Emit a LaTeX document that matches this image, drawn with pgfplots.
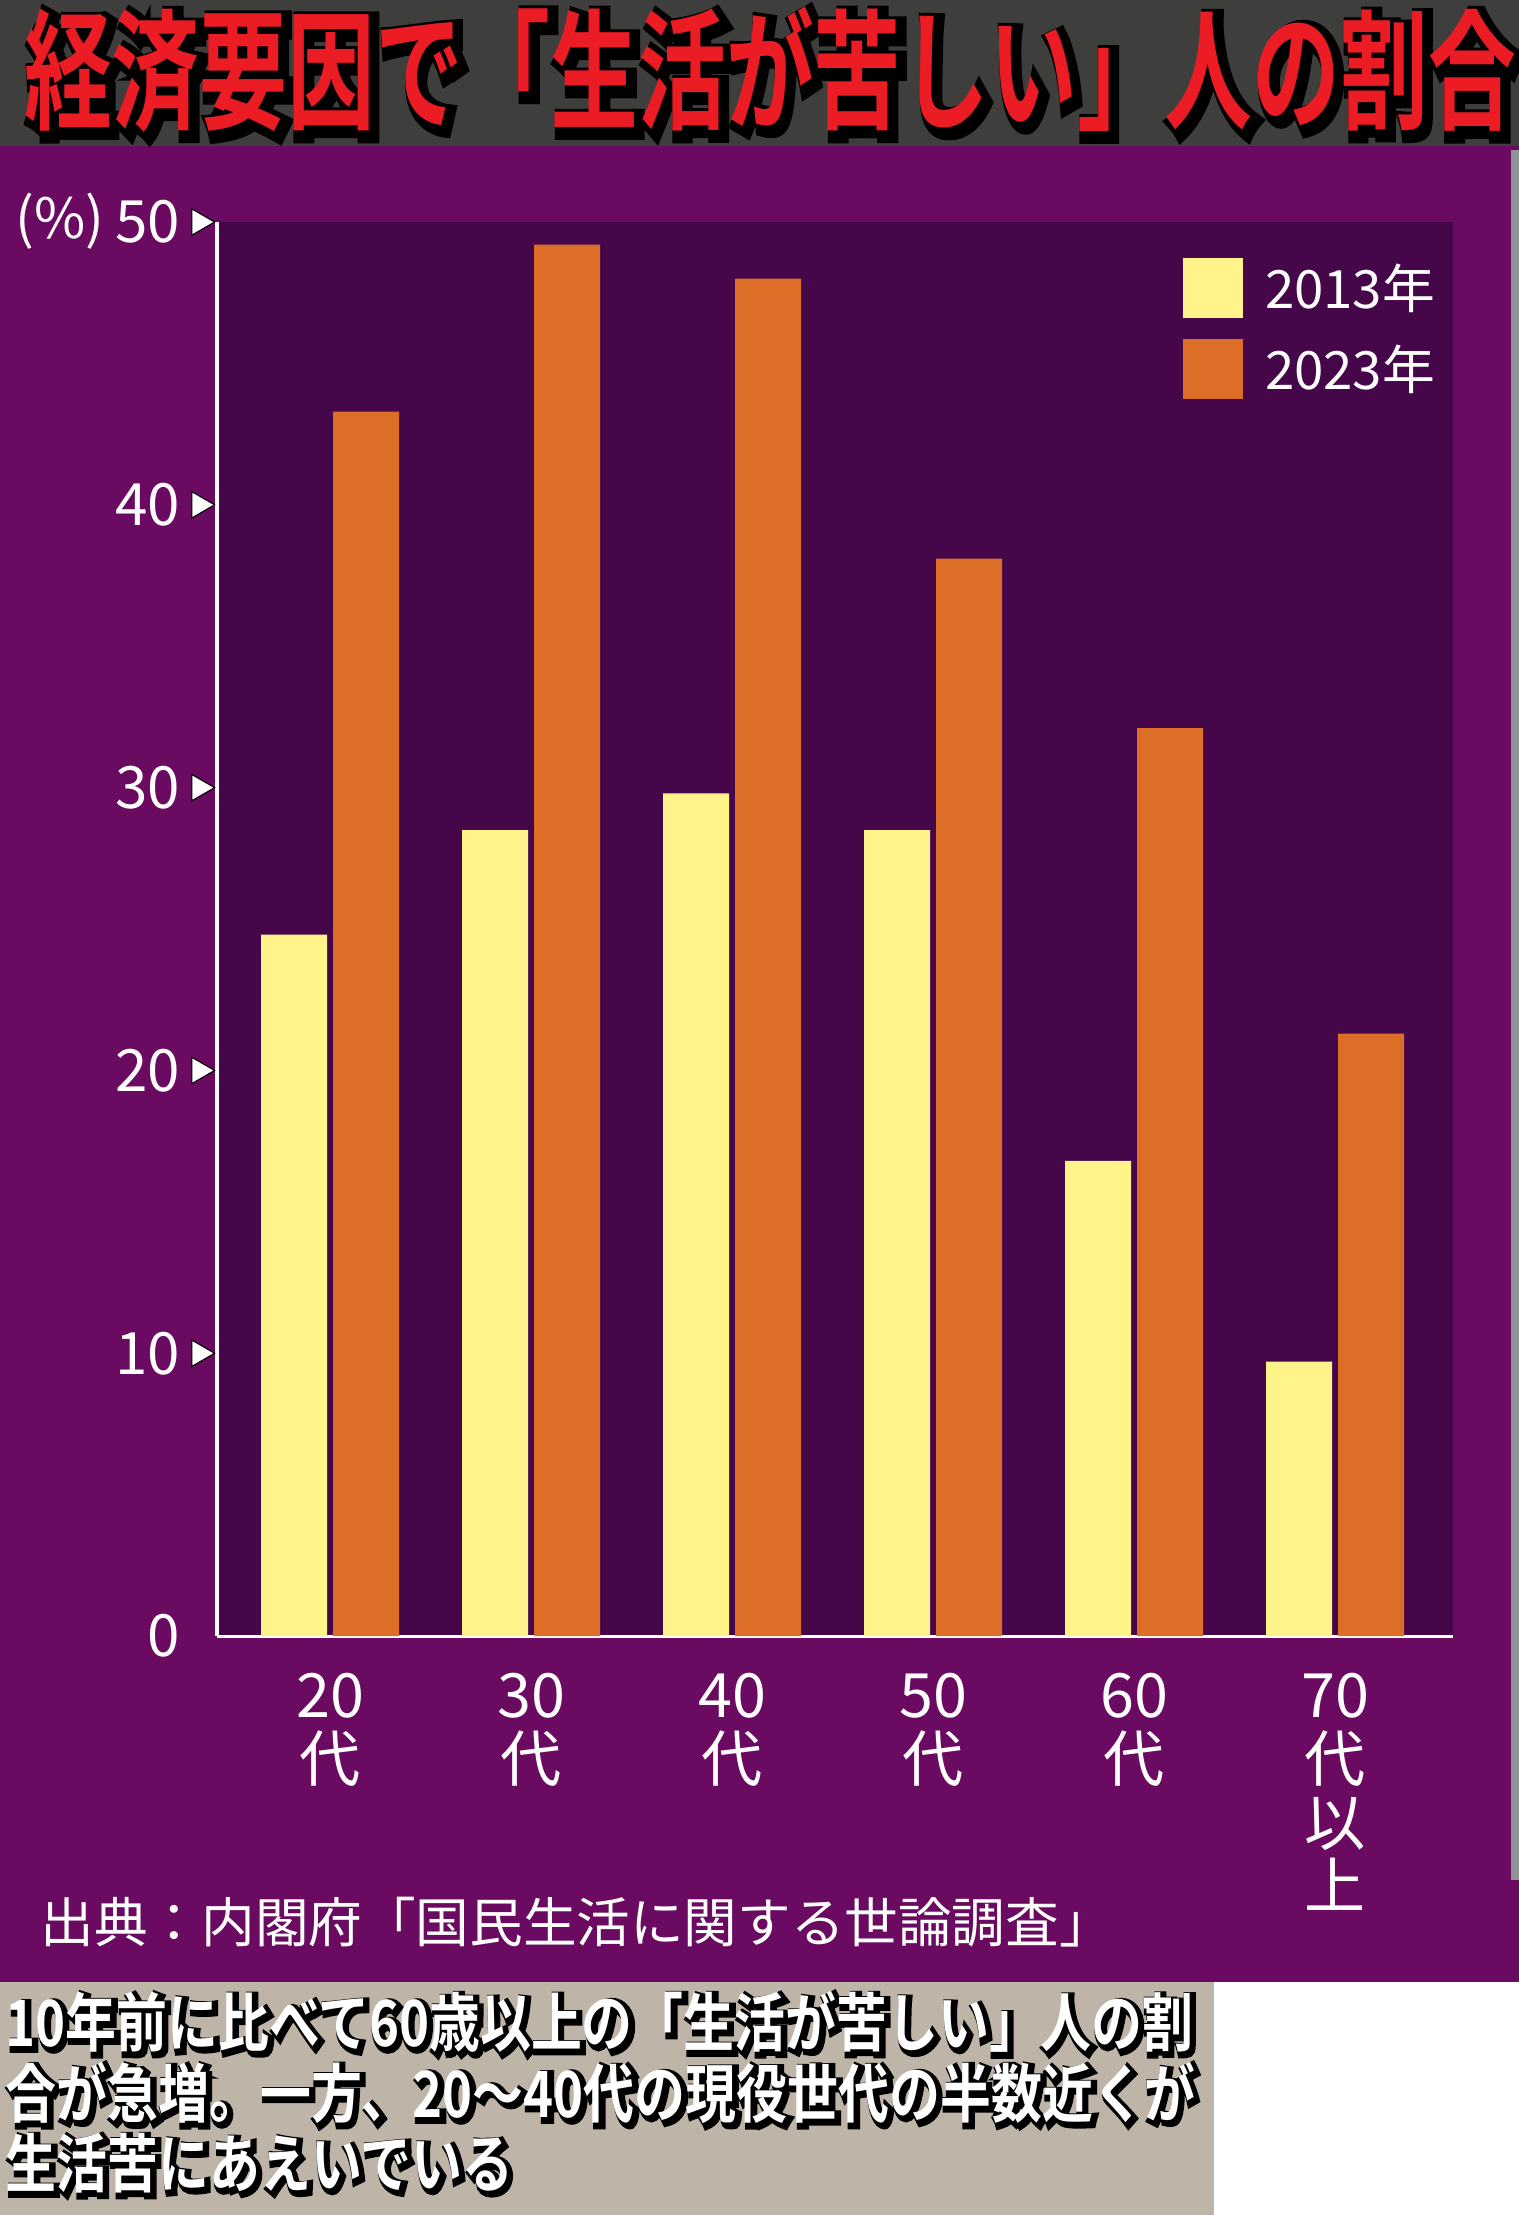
\documentclass[border=0pt]{standalone}
\usepackage{pgfplots}
\pgfplotsset{compat=1.18}
\usepackage{fontspec}
\setmainfont{Noto Sans CJK JP}
\newfontfamily\jpbold{Noto Sans CJK JP Bold}
\newfontfamily\jpboldout{Noto Sans CJK JP Bold}[FakeBold=12]
\definecolor{outerpurple}{HTML}{6A0A60}
\definecolor{innerpurple}{HTML}{46064A}
\definecolor{baryellow}{HTML}{FFF48A}
\definecolor{barorange}{HTML}{DC6E28}
\definecolor{titlered}{HTML}{EC1C24}
\definecolor{band}{HTML}{3E3E3C}
\definecolor{stone}{HTML}{BEB4A8}
\definecolor{sidegray}{HTML}{8E939A}

\pgfplotstableread{
x y13 y23
0 24.8 43.3
1 28.5 49.2
2 29.8 48.0
3 28.5 38.1
4 16.8 32.1
5 9.7 21.3
}\datatable

\begin{document}
\begin{tikzpicture}[x=0.36bp,y=0.36bp]
\useasboundingbox (0,0) rectangle (1519,-2215);
\clip (0,0) rectangle (1519,-2215);
\fill[white] (0,0) rectangle (1519,-2215);
\fill[band] (0,0) rectangle (1519,-146);
\fill[outerpurple] (0,-146) rectangle (1519,-1982);
\fill[sidegray] (1511,-150) rectangle (1519,-1880);
\fill[stone] (0,-1982) rectangle (1214,-2215);

% title
\node[anchor=base, text=black, inner sep=0pt] at (775,-124) {\scalebox{0.81}[1.2]{\jpboldout\fontsize{39bp}{39bp}\selectfont 経済要因で「生活が苦しい」人の割合}};
\node[anchor=base, text=titlered, inner sep=0pt] at (770,-119) {\scalebox{0.81}[1.2]{\jpbold\fontsize{39bp}{39bp}\selectfont 経済要因で「生活が苦しい」人の割合}};

\begin{axis}[
  at={(78.12bp,-588.96bp)}, anchor=south west,
  scale only axis, width=444.96bp, height=509.04bp,
  xmin=-0.5622, xmax=5.587, ymin=0, ymax=50,
  axis background/.style={fill=innerpurple},
  axis x line*=bottom, axis y line*=left,
  axis line style={white, line width=1.1bp, -},
  major tick length=0pt,
  xtick={0,1,2,3,4,5},
  xticklabels={{20\\代},{30\\代},{40\\代},{50\\代},{60\\代},{70\\代\\以\\上}},
  xticklabel style={align=center, anchor=north, inner sep=0pt, yshift=-13.3bp, font=\fontsize{22bp}{22.9bp}\selectfont, text=white},
  ytick={0,10,20,30,40,50},
  yticklabels={0,10,20,30,40,50},
  yticklabel style={anchor=east, inner sep=0pt, xshift=-13bp, font=\fontsize{21bp}{21bp}\selectfont, text=white},
  legend style={at={(axis description cs:0.7816,0.9745)}, anchor=north west, draw=none, fill=none, inner sep=0pt, outer sep=0pt, row sep=7.56bp, column sep=7.9bp, font=\fontsize{19bp}{19bp}\selectfont, text=white, nodes={inner sep=0pt}},
  legend cell align=left,
  legend image code/.code={\fill[#1] (0bp,-10.8bp) rectangle (21.6bp,10.8bp);},
  clip=false,
]
\addplot[ybar, bar width=23.76bp, bar shift=-12.96bp, fill=baryellow, draw=none] table[x=x, y=y13] {\datatable};
\addplot[ybar, bar width=23.76bp, bar shift=12.96bp, fill=barorange, draw=none] table[x=x, y=y23] {\datatable};
\legend{2013年,2023年}
\addplot[forget plot, only marks, mark=triangle*, mark size=5.5bp, mark options={rotate=-90, fill=white, draw=none}] coordinates {(-0.65,10) (-0.65,20) (-0.65,30) (-0.65,40) (-0.65,50)};
\end{axis}

% (%) label
\node[anchor=base west, inner sep=0pt, text=white, font=\fontsize{20bp}{20bp}\selectfont] at (15,-238) {(\%)};

% source
\node[anchor=base west, inner sep=0pt, text=white, font=\fontsize{19.3bp}{19.3bp}\selectfont] at (40,-1942) {出典：内閣府「国民生活に関する世論調査」};

% caption
\foreach \line/\yy in {{10年前に比べて60歳以上の「生活が苦しい」人の割}/2046, {合が急増。一方、20〜40代の現役世代の半数近くが}/2117, {生活苦にあえいでいる}/2187}{
  \node[anchor=base west, inner sep=0pt, text=black] at (8,-\yy-3) {\scalebox{0.877}[1.1]{\jpboldout\fontsize{20.9bp}{20.9bp}\selectfont \line}};
  \node[anchor=base west, inner sep=0pt, text=white] at (5,-\yy) {\scalebox{0.877}[1.1]{\jpbold\fontsize{20.9bp}{20.9bp}\selectfont \line}};
}
\end{tikzpicture}
\end{document}
